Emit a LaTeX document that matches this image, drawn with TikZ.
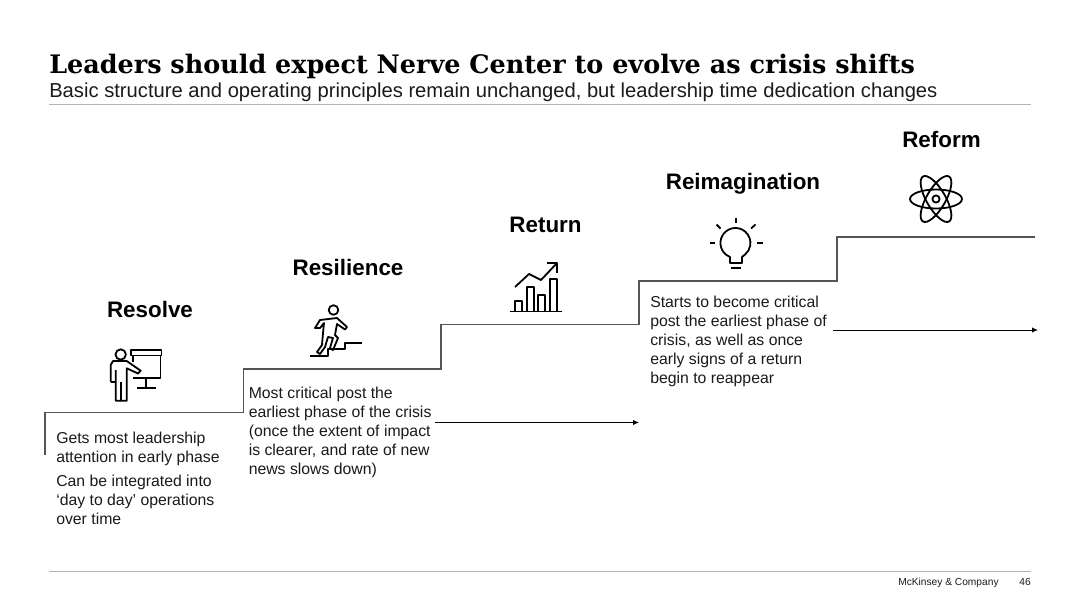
\documentclass[tikz,border=0pt]{standalone}
\usepackage{fontspec}
\setmainfont{Liberation Sans}
\newfontfamily\titlefont{DejaVu Serif}
\definecolor{stepgray}{HTML}{555555}
\definecolor{rulegray}{HTML}{B4B4B4}
\definecolor{ink}{HTML}{1A1A1A}
\usetikzlibrary{arrows.meta}
\tikzset{
  px/.style={x=0.75pt,y=-0.75pt},
  body/.style={anchor=north west,inner sep=0pt,align=left,text=ink,font=\fontsize{11.85}{14.25}\selectfont},
  head/.style={anchor=base,inner sep=0pt,text=black,font=\fontsize{16.8}{20}\selectfont\bfseries},
  stairline/.style={draw=stepgray,line width=1pt},
  hairline/.style={draw=rulegray,line width=0.7pt},
  flow/.style={draw=black,line width=0.7pt,-{Latex[length=4.5pt,width=4pt]}},
  icon/.style={draw=black,line width=1.35pt,line join=round,fill=none},
}
\begin{document}
\begin{tikzpicture}[px]
\useasboundingbox (0,0) rectangle (1080,607);
\node[anchor=base west,inner sep=0pt,font=\titlefont\fontsize{19.1}{24}\selectfont\bfseries] (title) at (49,73.5) {Leaders should expect Nerve Center to evolve as crisis shifts};
\node[anchor=base west,inner sep=0pt,text=ink,font=\fontsize{15.15}{18}\selectfont] (sub) at (49,97.5) {Basic structure and operating principles remain unchanged, but leadership time dedication changes};
\draw[hairline] (49,104.5) -- (1031,104.5);
\draw[hairline] (49,571.5) -- (1031,571.5);
\node[anchor=base west,inner sep=0pt,text=ink,font=\fontsize{7.65}{9}\selectfont] (mck) at (898,585.5) {McKinsey \& Company};
\node[anchor=base east,inner sep=0pt,text=ink,font=\fontsize{7.65}{9}\selectfont] (pg) at (1031,585.5) {46};

% stairs
\draw[stairline] (45,455) -- (45,412.5) -- (243.5,412.5) -- (243.5,369) -- (441,369) -- (441,324.5) -- (639,324.5) -- (639,281) -- (837,281) -- (837,237) -- (1035,237);

% heads
\node[head] (h1) at (150,317) {Resolve};
\node[head] (h2) at (348,275) {Resilience};
\node[head] (h3) at (545.5,232) {Return};
\node[head] (h4) at (743,189.5) {Reimagination};
\node[head] (h5) at (941.5,147) {Reform};

% texts
\node[body] (t1) at (56,431.5) {Gets most leadership\\attention in early phase};
\node[body] (t1b) at (56,475) {Can be integrated into\\‘day to day’ operations\\over time};
\node[body] (t2) at (248.5,386.5) {Most critical post the\\earliest phase of the crisis\\(once the extent of impact\\is clearer, and rate of new\\news slows down)};
\node[body] (t4) at (650,296) {Starts to become critical\\post the earliest phase of\\crisis, as well as once\\early signs of a return\\begin to reappear};

% arrows
\coordinate (a2s) at (435,422.5);
\coordinate (a2e) at (639,422.5);
\coordinate (a4s) at (833,330);
\coordinate (a4e) at (1038,330);
\draw[flow] (a2s) -- (a2e);
\draw[flow] (a4s) -- (a4e);

% icon 1: presenter
\begin{scope}[icon]
\draw (120.7,354.5) circle (5.2);
\draw (131,350) rectangle (161.5,355.5);
\draw (133,355.5) -- (133,362);
\draw (160.5,355.5) -- (160.5,378) -- (133,378);
\draw (146,378) -- (146,388);
\draw (137,388) -- (156,388);
\draw (110.7,382) -- (110.7,365) -- (113,361) -- (126.7,361) -- (140.7,370.7) -- (138,373.5) -- (126.7,368.3) -- (126.7,400.7) -- (115.7,400.7) -- (115.7,370);
\draw (110.7,382) -- (115.7,382);
\draw (121.2,382) -- (121.2,400.7);
\end{scope}

% icon 2: stairs runner
\begin{scope}[icon]
\draw (333.5,310) circle (4.8);
\draw (310,356) -- (328,356) -- (328,349) -- (345,349) -- (345,343) -- (362,343);
\draw (315,328) -- (320,320) -- (337,318) -- (347,327) -- (345,329.5) -- (337,324) -- (335,335) -- (338,338) -- (333,350) -- (330,348) -- (333,338) -- (328,337) -- (325,347) -- (320,354) -- (317,352) -- (322,345) -- (323,333) -- (324,323) -- (320,328) -- cycle;
\end{scope}

% icon 3: chart
\begin{scope}[icon]
\draw (510,311.5) -- (562,311.5);
\draw (515,311) -- (515,301) -- (522,301) -- (522,311);
\draw (527,311) -- (527,287) -- (534,287) -- (534,311);
\draw (538,311) -- (538,295) -- (545,295) -- (545,311);
\draw (550,311) -- (550,279) -- (557,279) -- (557,311);
\draw (515,287) -- (529,274) -- (541,280) -- (557,263);
\draw (547,263) -- (557,263) -- (557,273);
\end{scope}

% icon 4: bulb
\begin{scope}[icon]
\draw (730,263) -- (730,257) -- (725.8,254.5) arc[start angle=130,end angle=410,radius=15] -- (742,257) -- (742,263) -- cycle;
\draw (730.5,268) -- (741,268);
\draw (736,217.5) -- (736,223);
\draw (716.5,224.5) -- (720.5,228.5);
\draw (755.5,224.5) -- (751,228.5);
\draw (709.5,243) -- (715,243);
\draw (757,243) -- (762.5,243);
\end{scope}

% icon 5: atom
\begin{scope}[icon]
\draw (936,199) circle (3.6);
\draw (936,199) ellipse [x radius=26,y radius=9.5];
\draw[rotate around={60:(936,199)}] (936,199) ellipse [x radius=26,y radius=9.5];
\draw[rotate around={-60:(936,199)}] (936,199) ellipse [x radius=26,y radius=9.5];
\end{scope}
\end{tikzpicture}
\end{document}
